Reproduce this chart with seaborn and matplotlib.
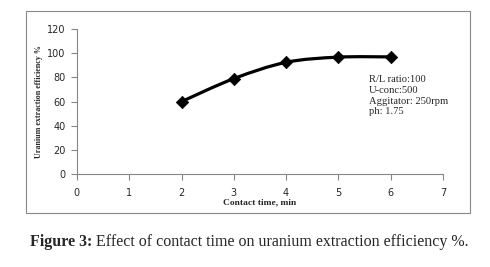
import numpy as np
import pandas as pd
import matplotlib
matplotlib.use("Agg")
import matplotlib.pyplot as plt
from matplotlib.path import Path
from matplotlib.patches import PathPatch, Rectangle
import seaborn as sns

contact_time = [2, 3, 4, 5, 6]
efficiency = [60, 79, 92.5, 96.8, 97]
x_ticks = [0, 1, 2, 3, 4, 5, 6, 7]
y_ticks = [0, 20, 40, 60, 80, 100, 120]
note_lines = ["R/L ratio:100", "U-conc:500", "Aggitator: 250rpm", "ph: 1.75"]

sns.set_style("white")
plt.rcParams['font.family'] = ['DejaVu Sans']

fig = plt.figure(figsize=(4.9, 2.67), dpi=100)
ax = fig.add_axes([0.157, 0.348, 0.747, 0.543])

df = pd.DataFrame({"t": contact_time, "e": efficiency})

# smooth (Excel-like) curve through data via Bezier segments
xs = np.array(contact_time, float)
ys = np.array(efficiency, float)
verts = [(xs[0], ys[0])]
codes = [Path.MOVETO]
n = len(xs)
for i in range(n - 1):
    p0 = (xs[max(i - 1, 0)], ys[max(i - 1, 0)])
    p1 = (xs[i], ys[i])
    p2 = (xs[i + 1], ys[i + 1])
    p3 = (xs[min(i + 2, n - 1)], ys[min(i + 2, n - 1)])
    c1 = (p1[0] + (p2[0] - p0[0]) / 6, p1[1] + (p2[1] - p0[1]) / 6)
    c2 = (p2[0] - (p3[0] - p1[0]) / 6, p2[1] - (p3[1] - p1[1]) / 6)
    verts += [c1, c2, p2]
    codes += [Path.CURVE4] * 3
ax.add_patch(PathPatch(Path(verts, codes), facecolor="none", edgecolor="black", lw=2.3, zorder=2))

sns.scatterplot(data=df, x="t", y="e", ax=ax, marker="D", s=40, color="black",
                edgecolor="black", zorder=3, legend=False)

ax.set_xlim(0, 7)
ax.set_ylim(0, 120)
ax.set_xticks(x_ticks)
ax.set_yticks(y_ticks)
ax.tick_params(axis="both", labelsize=7, colors="#868686", length=4, width=0.8,
               direction="out", bottom=True, left=True, pad=4)
for lab in ax.get_xticklabels() + ax.get_yticklabels():
    lab.set_color("#262626")
for s in ["top", "right"]:
    ax.spines[s].set_visible(False)
for s in ["left", "bottom"]:
    ax.spines[s].set_color("#868686")
    ax.spines[s].set_linewidth(0.8)
ax.tick_params(axis="x", pad=6)

ax.set_xlabel("Contact time, min", family="Liberation Serif", fontweight="bold", fontsize=6.8, labelpad=0)
ax.set_ylabel("Uranium extraction efficiency %", family="Liberation Serif", fontweight="bold", fontsize=5.8, labelpad=3)

ax.text(5.59, 82, "\n".join(note_lines), family="Liberation Serif", fontsize=7.6,
        va="top", ha="left", linespacing=1.25)

fig.add_artist(Rectangle((26 / 490, 1 - 212.5 / 267), (470 - 26) / 490, (212.5 - 10.5) / 267,
                         transform=fig.transFigure, fill=False, edgecolor="#888888", lw=0.8))

t1 = fig.text(30 / 490, 1 - 246 / 267, "Figure 3:", family="Liberation Serif", fontweight="bold",
              fontsize=11.5, va="baseline", ha="left")
fig.canvas.draw()
bb = t1.get_window_extent()
fig.text((bb.x1 + 4) / 490, 1 - 246 / 267, "Effect of contact time on uranium extraction efficiency %.",
         family="Liberation Serif", fontsize=11.5, va="baseline", ha="left")

fig.savefig("out.png", dpi=100)
